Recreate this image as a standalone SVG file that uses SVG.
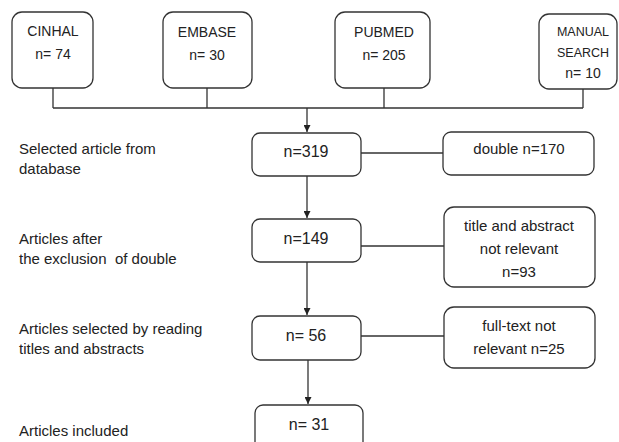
<svg xmlns="http://www.w3.org/2000/svg" width="619" height="442" viewBox="0 0 619 442">
<defs>
<style>
.box{fill:#fff;stroke:#333;stroke-width:1.3}
.ln{fill:none;stroke:#333;stroke-width:1.3}
text{font-family:"Liberation Sans",Arial,sans-serif;fill:#222}
.t14{font-size:14px;text-anchor:middle}
.t12{font-size:12.5px;text-anchor:middle}
.t15{font-size:15px;text-anchor:middle}
.t16{font-size:16px;text-anchor:middle}
.lab{font-size:15px}
</style>
<marker id="ah" viewBox="0 0 10 10" refX="10" refY="5" markerWidth="7" markerHeight="7" markerUnits="userSpaceOnUse" orient="auto">
<path d="M0,0 L10,5 L0,10 Z" fill="#222"/>
</marker>
</defs>
<rect width="619" height="442" fill="#fff"/>

<g id="cinhal"><rect class="box" x="12" y="12" width="81" height="76" rx="10"/><text class="t14" x="53" y="36">CINHAL</text><text class="t14" x="53" y="59">n= 74</text></g>
<g id="embase"><rect class="box" x="163" y="12" width="89" height="76" rx="10"/><text class="t14" x="207" y="37">EMBASE</text><text class="t14" x="207" y="60">n= 30</text></g>
<g id="pubmed"><rect class="box" x="335" y="12" width="95" height="76" rx="10"/><text class="t14" x="384" y="37">PUBMED</text><text class="t14" x="384" y="60">n= 205</text></g>
<g id="manual"><rect class="box" x="539" y="14" width="78" height="75" rx="10"/><text class="t12" x="583" y="36">MANUAL</text><text class="t12" x="583" y="57">SEARCH</text><text class="t14" x="583" y="78">n= 10</text></g>

<g id="n319"><rect class="box" x="252" y="133" width="109" height="43" rx="8"/><text class="t16" x="306" y="157">n=319</text></g>
<g id="double"><rect class="box" x="443" y="132" width="151" height="43" rx="8"/><text class="t15" x="519" y="154">double n=170</text></g>
<g id="n149"><rect class="box" x="252" y="219" width="109" height="43" rx="8"/><text class="t16" x="306" y="244">n=149</text></g>
<g id="title"><rect class="box" x="444" y="207" width="151" height="80" rx="10"/><text class="t15" x="519" y="231">title and abstract</text><text class="t15" x="519" y="254">not relevant</text><text class="t15" x="519" y="277">n=93</text></g>
<g id="n56"><rect class="box" x="252" y="316" width="109" height="44" rx="8"/><text class="t16" x="306" y="341">n= 56</text></g>
<g id="fulltext"><rect class="box" x="444" y="307" width="151" height="61" rx="10"/><text class="t15" x="519" y="331">full-text not</text><text class="t15" x="519" y="354">relevant n=25</text></g>
<g id="n31"><rect class="box" x="255" y="405" width="108" height="50" rx="8"/><text class="t16" x="309" y="430">n= 31</text></g>

<g id="labels">
<text class="lab" x="19" y="154">Selected article from</text>
<text class="lab" x="19" y="174">database</text>
<text class="lab" x="19" y="244">Articles after</text>
<text class="lab" x="19" y="264" xml:space="preserve">the exclusion  of double</text>
<text class="lab" x="19" y="334">Articles selected by reading</text>
<text class="lab" x="19" y="354">titles and abstracts</text>
<text class="lab" x="19" y="436">Articles included</text>
</g>

<g id="connectors">
<path class="ln" d="M53,88 V108 M207,88 V108 M384,88 V108 M583,89 V108 M53,108 H583"/>
<line class="ln" x1="307" y1="108" x2="307" y2="132" marker-end="url(#ah)"/>
<line class="ln" x1="307" y1="176" x2="307" y2="218" marker-end="url(#ah)"/>
<line class="ln" x1="307" y1="262" x2="307" y2="315" marker-end="url(#ah)"/>
<line class="ln" x1="308" y1="360" x2="308" y2="404" marker-end="url(#ah)"/>
<line class="ln" x1="361" y1="153" x2="443" y2="153"/>
<line class="ln" x1="361" y1="246" x2="444" y2="246"/>
<line class="ln" x1="361" y1="336" x2="444" y2="336"/>
</g>
</svg>
